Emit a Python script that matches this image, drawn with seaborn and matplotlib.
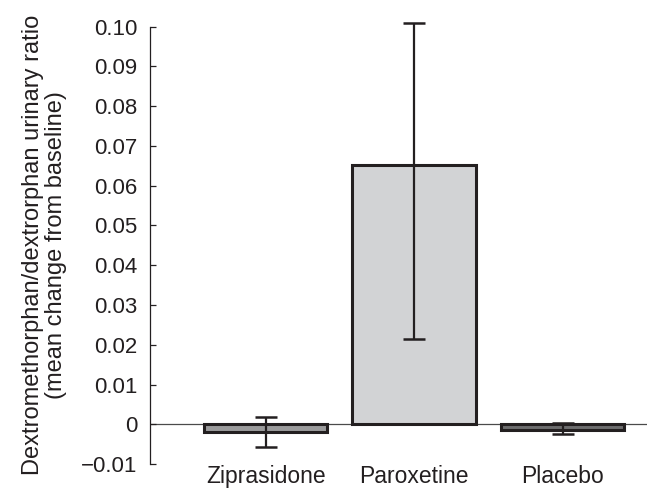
import seaborn as sns
import matplotlib.pyplot as plt

# values
drugs = ['Ziprasidone', 'Paroxetine', 'Placebo']
mean_change = [-0.0020, 0.0652, -0.0015]
err_low = [-0.0058, 0.0214, -0.0025]
err_high = [0.0018, 0.1009, 0.0002]
bar_colors = ['#9b9b9c', '#d2d3d5', '#6d6d6e']
ytick_vals = [-0.01, 0, 0.01, 0.02, 0.03, 0.04, 0.05, 0.06, 0.07, 0.08, 0.09, 0.10]
ytick_labels = ['\u22120.01', '0', '0.01', '0.02', '0.03', '0.04', '0.05',
                '0.06', '0.07', '0.08', '0.09', '0.10']

sns.set_style('white')
plt.rcParams['font.family'] = ['Liberation Sans', 'DejaVu Sans']

fig = plt.figure(figsize=(6.47, 4.90), dpi=100)
ax = fig.add_axes([0.232, 0.053, 0.768, 0.8925])

ax.axhline(0, color='#4a4a4a', lw=0.9, zorder=0)
sns.barplot(x=drugs, y=mean_change, hue=drugs, palette=bar_colors, legend=False,
            width=0.83, edgecolor='#231f20', linewidth=2.2, ax=ax, zorder=2)

lower = [m - lo for m, lo in zip(mean_change, err_low)]
upper = [hi - m for m, hi in zip(mean_change, err_high)]
ax.errorbar(range(len(drugs)), mean_change, yerr=[lower, upper], fmt='none',
            ecolor='#231f20', elinewidth=1.6, capsize=7.8, capthick=1.8,
            clip_on=False, zorder=3)

ax.set_ylim(-0.01, 0.10)
ax.set_xlim(-0.778, 2.569)
ax.set_yticks(ytick_vals)
ax.set_yticklabels(ytick_labels)
ax.tick_params(axis='y', direction='in', length=4, width=0.9, color='#231f20',
               labelsize=16, pad=9, left=True, labelcolor='#231f20')
ax.tick_params(axis='x', length=0, labelsize=16.5, pad=1, labelcolor='#231f20')

for side in ['top', 'right', 'bottom']:
    ax.spines[side].set_visible(False)
ax.spines['left'].set_color('#231f20')
ax.spines['left'].set_linewidth(0.9)

ax.set_xlabel('')
ax.set_ylabel('Dextromethorphan/dextrorphan urinary ratio\n(mean change from baseline)',
              fontsize=17, linespacing=1.05, labelpad=10, color='#231f20')

fig.savefig('out.png', dpi=100)
